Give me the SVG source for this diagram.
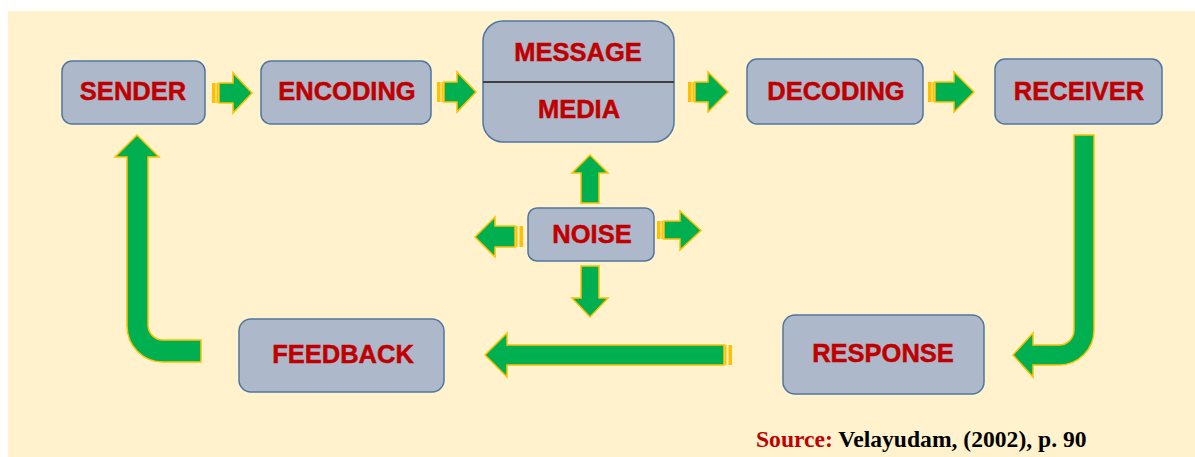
<svg xmlns="http://www.w3.org/2000/svg" width="1195" height="457" viewBox="0 0 1195 457">
  <style>
    .box { fill: #ADB9CA; stroke: #4F76A0; stroke-width: 1.5; }
    .lbl { font-family: "Liberation Sans", Arial, sans-serif; font-weight: bold; font-size: 25.5px; fill: #C00000; stroke: #C00000; stroke-width: 0.5; text-anchor: middle; }
    .arr { fill: #00B050; stroke: #FFC000; stroke-width: 1.5; stroke-linejoin: miter; }
    .stripe { fill: #FFC000; }
    .src { font-family: "Liberation Serif", "Times New Roman", serif; font-weight: bold; font-size: 23.6px; }
  </style>

  <!-- page background -->
  <rect x="0" y="0" width="1195" height="457" fill="#FFFFFF"/>
  <rect x="8" y="11" width="1187" height="446" fill="#FFF2CC"/>

  <!-- connectors -->
  <g id="connectors">
    <!-- SENDER -> ENCODING -->
    <rect class="stripe" x="212" y="83" width="3.5" height="20"/>
    <rect class="stripe" x="216.5" y="83" width="1.5" height="20"/>
    <path class="arr" d="M219,83 H233 V73 L252,93 L233,113 V103 H219 Z"/>
    <!-- ENCODING -> MESSAGE/MEDIA -->
    <rect class="stripe" x="437" y="82" width="3.5" height="20"/>
    <rect class="stripe" x="441.5" y="82" width="1.5" height="20"/>
    <path class="arr" d="M444,82 H457 V72 L476,92 L457,112 V102 H444 Z"/>
    <!-- MESSAGE/MEDIA -> DECODING -->
    <rect class="stripe" x="688" y="82" width="3.5" height="20"/>
    <rect class="stripe" x="692.5" y="82" width="1.5" height="20"/>
    <path class="arr" d="M695,82 H708 V72 L728,92 L708,112 V102 H695 Z"/>
    <!-- DECODING -> RECEIVER -->
    <rect class="stripe" x="928" y="82" width="3.5" height="20"/>
    <rect class="stripe" x="932.5" y="82" width="1.5" height="20"/>
    <path class="arr" d="M935,82 H954 V72 L974,92 L954,112 V102 H935 Z"/>

    <!-- RECEIVER -> RESPONSE (bent) -->
    <path class="arr" d="M1074,135 H1094 V330 A35,35 0 0 1 1059,365 H1033 V377 L1013,355 L1033,333 V345 H1059 A15,15 0 0 0 1074,330 Z"/>

    <!-- RESPONSE -> FEEDBACK -->
    <rect class="stripe" x="728.5" y="345" width="3.5" height="20"/>
    <rect class="stripe" x="725" y="345" width="1.5" height="20"/>
    <path class="arr" d="M724,345 H507 V333 L485,355 L507,377 V365 H724 Z"/>

    <!-- FEEDBACK -> SENDER (bent) -->
    <path class="arr" d="M137,135 L159,157 H148 V325 A15,15 0 0 0 163,340 H201 V362 H163 A36,36 0 0 1 127,326 V157 H115 Z"/>

    <!-- NOISE arrows -->
    <path class="arr" d="M590,155 L608,173 H599 V203 H581 V173 H572 Z"/>
    <path class="arr" d="M581,266 H599 V298 H608 L590,317 L572,298 H581 Z"/>
    <rect class="stripe" x="519.5" y="226" width="3.5" height="21"/>
    <rect class="stripe" x="516" y="226" width="1.5" height="21"/>
    <path class="arr" d="M515,226 H495 V217 L475,237 L495,257 V247 H515 Z"/>
    <rect class="stripe" x="657" y="221" width="3.5" height="18"/>
    <rect class="stripe" x="661.5" y="221" width="1.5" height="18"/>
    <path class="arr" d="M664,221 H680 V211 L701,230.5 L680,250 V239 H664 Z"/>
  </g>

  <!-- nodes -->
  <g id="sender">
    <rect class="box" x="62" y="61" width="143" height="63" rx="10"/>
    <text class="lbl" x="133" y="100">SENDER</text>
  </g>
  <g id="encoding">
    <rect class="box" x="261" y="61" width="170" height="63" rx="10"/>
    <text class="lbl" x="347" y="100">ENCODING</text>
  </g>
  <g id="message-media">
    <rect class="box" x="483" y="21" width="191" height="121" rx="20"/>
    <line x1="483" y1="82" x2="674" y2="82" stroke="#404040" stroke-width="2"/>
    <text class="lbl" x="578" y="61">MESSAGE</text>
    <text class="lbl" x="579" y="118">MEDIA</text>
  </g>
  <g id="decoding">
    <rect class="box" x="747" y="59" width="176" height="65" rx="10"/>
    <text class="lbl" x="836" y="100">DECODING</text>
  </g>
  <g id="receiver">
    <rect class="box" x="995" y="59" width="167" height="65" rx="10"/>
    <text class="lbl" x="1079" y="100">RECEIVER</text>
  </g>
  <g id="noise">
    <rect class="box" x="528" y="208" width="126" height="53" rx="9"/>
    <text class="lbl" x="592" y="243">NOISE</text>
  </g>
  <g id="feedback">
    <rect class="box" x="239" y="319" width="205" height="73" rx="12"/>
    <text class="lbl" x="343" y="363">FEEDBACK</text>
  </g>
  <g id="response">
    <rect class="box" x="783" y="315" width="201" height="79" rx="12"/>
    <text class="lbl" x="883" y="362">RESPONSE</text>
  </g>

  <!-- citation -->
  <text class="src" x="756" y="447"><tspan fill="#C00000">Source:</tspan><tspan fill="#000000"> Velayudam, (2002), p. 90</tspan></text>
</svg>
